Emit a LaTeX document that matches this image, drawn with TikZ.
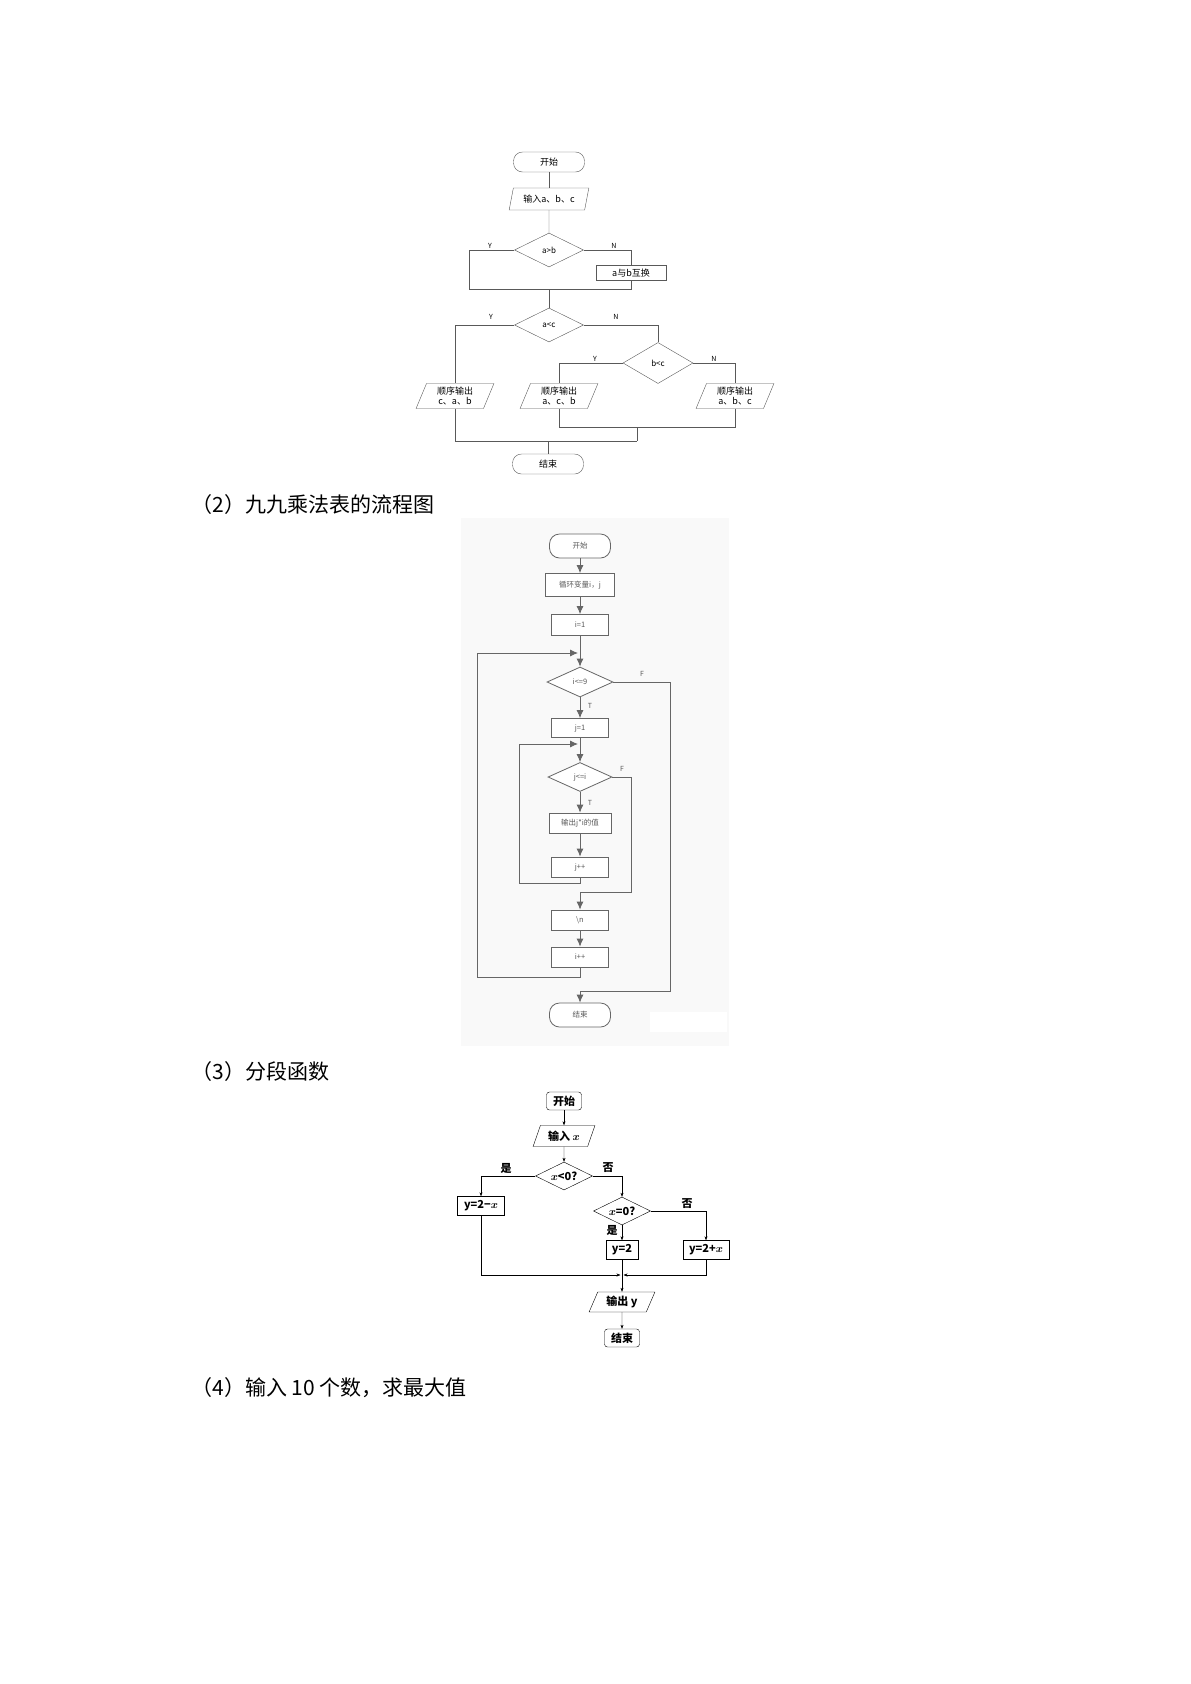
\documentclass[tikz,border=0pt]{standalone}
\usepackage{fontspec}
\usepackage{amsmath,bm}
\setmainfont{Noto Sans CJK SC}
\usetikzlibrary{shapes.geometric,arrows.meta}

\tikzset{
  % first chart: thin grey lines, no arrow tips
  term1/.style={draw=gray!70!black, rounded corners=9pt, minimum width=71pt, minimum height=20pt, inner sep=0pt, font=\fontsize{9}{10}\selectfont},
  io1/.style={draw=gray!70!black, trapezium, trapezium left angle=70, trapezium right angle=110, trapezium stretches=true, minimum width=80pt, minimum height=22pt, inner sep=0pt, font=\fontsize{9}{10}\selectfont},
  dec1/.style={draw=gray!70!black, diamond, aspect=2, minimum width=69pt, minimum height=34pt, inner sep=0pt, font=\fontsize{8}{10}\selectfont},
  box1/.style={draw=gray!70!black, minimum width=70pt, minimum height=15pt, inner sep=0pt, font=\fontsize{9}{10}\selectfont},
  lbl1/.style={font=\fontsize{7}{8}\selectfont},
  line1/.style={gray!70!black, thin},
  % second chart
  term2/.style={draw=gray!80!black, thick, rounded corners=10pt, minimum width=61pt, minimum height=24pt, inner sep=0pt, font=\fontsize{7.5}{9}\selectfont, text=gray!70!black},
  box2/.style={draw=gray!80!black, thick, fill=white, minimum width=57pt, minimum height=21pt, inner sep=0pt, font=\fontsize{7.5}{9}\selectfont, text=gray!70!black},
  dec2/.style={draw=gray!80!black, thick, fill=white, diamond, aspect=2.2, minimum width=66pt, minimum height=30pt, inner sep=0pt, font=\fontsize{7.5}{9}\selectfont, text=gray!70!black},
  lbl2/.style={font=\fontsize{7}{8}\selectfont, text=gray!70!black},
  line2/.style={gray!80!black, thick, -{Latex[length=8pt,width=7pt]}},
  % third chart
  term3/.style={draw, rounded corners=3pt, minimum width=35pt, minimum height=18pt, inner sep=0pt, font=\bfseries\fontsize{11}{12}\selectfont},
  io3/.style={draw, trapezium, trapezium left angle=65, trapezium right angle=115, trapezium stretches=true, minimum width=62pt, minimum height=21pt, inner sep=0pt, font=\bfseries\fontsize{11}{12}\selectfont},
  dec3/.style={draw, diamond, aspect=2, minimum width=57pt, minimum height=28pt, inner sep=0pt, font=\bfseries\fontsize{11}{12}\selectfont},
  box3/.style={draw, minimum height=19pt, inner sep=0pt, font=\bfseries\fontsize{11}{12}\selectfont},
  lbl3/.style={font=\bfseries\fontsize{11}{12}\selectfont},
  line3/.style={-{Stealth[length=4pt,width=3pt]}},
  caption/.style={anchor=west, font=\fontsize{21}{24}\selectfont}
}

\begin{document}
\begin{tikzpicture}[x=1pt, y=-1pt]
    \useasboundingbox (0,0) rectangle (1191,1684);

    % Chart 1: sorting three numbers
    \node[term1] (start1) at (549,162) {开始};
    \node[io1] (input1) at (549,199) {输入a、b、c};
    \node[dec1] (cmpab) at (549,250) {a>b};
    \node[box1] (swap) at (631,273) {a与b互换};
    \node[dec1] (cmpac) at (549,325) {a<c};
    \node[dec1, minimum width=70pt, minimum height=41pt] (cmpbc) at (658,363) {b<c};
    \node[io1, minimum width=78pt, minimum height=25pt, align=center] (outcab) at (455,396) {顺序输出\\c、a、b};
    \node[io1, minimum width=78pt, minimum height=25pt, align=center] (outacb) at (559,396) {顺序输出\\a、c、b};
    \node[io1, minimum width=78pt, minimum height=25pt, align=center] (outabc) at (735,396) {顺序输出\\a、b、c};
    \node[term1] (end1) at (548,464) {结束};
    \coordinate (join1) at (549,289);
    \coordinate (join2) at (637,427);
    \coordinate (join3) at (548,441);

    \draw[line1] (start1) -- (input1);
    \draw[line1] (input1) -- (cmpab);
    \draw[line1] (cmpab.west) -- (469,250) |- (join1);
    \draw[line1] (cmpab.east) -| (swap.north);
    \draw[line1] (swap.south) |- (join1);
    \draw[line1] (join1) -- (cmpac.north);
    \draw[line1] (cmpac.west) -| (outcab.north);
    \draw[line1] (cmpac.east) -| (cmpbc.north);
    \draw[line1] (cmpbc.west) -| (outacb.north);
    \draw[line1] (cmpbc.east) -| (outabc.north);
    \draw[line1] (outacb.south) |- (join2);
    \draw[line1] (outabc.south) |- (join2);
    \draw[line1] (join2) -- (join2 |- join3);
    \draw[line1] (outcab.south) |- (join2 |- join3);
    \draw[line1] (join3) -- (end1);
    \node[lbl1] (y1) at (490,246) {Y};
    \node[lbl1] (n1) at (614,246) {N};
    \node[lbl1] (y2) at (491,317) {Y};
    \node[lbl1] (n2) at (616,317) {N};
    \node[lbl1] (y3) at (595,359) {Y};
    \node[lbl1] (n3) at (714,359) {N};

    % Caption 2
    \node[caption] (cap2) at (188,505) {（2）九九乘法表的流程图};

    % Chart 2: multiplication table
    \fill[gray!5] (461,518) rectangle (729,1046);
    \fill[white] (650,1012) rectangle (727,1032);
    \node[term2, fill=white] (start2) at (580,546) {开始};
    \node[box2, minimum width=69pt, minimum height=23pt] (vars) at (580,585) {循环变量i，j};
    \node[box2] (iset) at (580,625) {i=1};
    \node[dec2] (cmpi) at (580,682) {i<=9};
    \node[box2, minimum height=19pt] (jset) at (580,728) {j=1};
    \node[dec2, minimum width=64pt, minimum height=29pt] (cmpj) at (580,777) {j<=i};
    \node[box2, minimum width=62pt, minimum height=20pt] (print) at (580,823) {输出j*i的值};
    \node[box2, minimum height=20pt] (jinc) at (580,867) {j++};
    \node[box2, minimum height=20pt] (newline) at (580,920) {\textbackslash n};
    \node[box2, minimum height=20pt] (iinc) at (580,957) {i++};
    \node[term2, fill=white] (end2) at (580,1015) {结束};
    \coordinate (loopi) at (580,653);
    \coordinate (loopj) at (580,744);
    \coordinate (exitj) at (580,892);
    \coordinate (exiti) at (580,991);

    \draw[line2] (start2) -- (vars);
    \draw[line2] (vars) -- (iset);
    \draw[line2] (iset) -- (cmpi);
    \draw[line2] (cmpi) -- (jset);
    \draw[line2] (jset) -- (cmpj);
    \draw[line2] (cmpj) -- (print);
    \draw[line2] (print) -- (jinc);
    \draw[line2] (newline) -- (iinc);
    \draw[line2] (jinc.south) -- (580,883) -| (519,744) -- ([xshift=-2pt]loopj);
    \draw[line2] (cmpj.east) -- (631,777) |- (exitj) -- (newline.north);
    \draw[line2] (iinc.south) -- (580,977) -| (477,653) -- ([xshift=-2pt]loopi);
    \draw[line2] (cmpi.east) -- (670,682) |- (exiti) -- (end2.north);
    \node[lbl2] (t1) at (590,706) {T};
    \node[lbl2] (f1) at (642,674) {F};
    \node[lbl2] (t2) at (590,803) {T};
    \node[lbl2] (f2) at (622,769) {F};

    % Caption 3
    \node[caption] (cap3) at (188,1072) {（3）分段函数};

    % Chart 3: piecewise function
    \node[term3] (start3) at (564,1101) {开始};
    \node[io3] (input3) at (564,1136) {输入 $\bm{x}$};
    \node[dec3] (neg) at (564,1176) {$\bm{x}$<0?};
    \node[box3, minimum width=47pt] (yneg) at (481,1206) {y=2−$\bm{x}$};
    \node[dec3] (zero) at (622,1211) {$\bm{x}$=0?};
    \node[box3, minimum width=32pt] (yzero) at (622,1250) {y=2};
    \node[box3, minimum width=46pt] (ypos) at (706,1250) {y=2+$\bm{x}$};
    \node[io3, minimum width=66pt, minimum height=20pt] (output3) at (622,1302) {输出 y};
    \node[term3] (end3) at (622,1338) {结束};
    \coordinate (join4) at (622,1275);

    \draw[line3] (start3) -- (input3);
    \draw[line3] (input3) -- (neg);
    \draw[line3] (neg.west) -| (yneg.north);
    \draw[line3] (neg.east) -| (zero.north);
    \draw[line3] (zero.east) -| (ypos.north);
    \draw[line3] (zero) -- (yzero);
    \draw[line3] (yneg.south) |- ([xshift=-1.5pt]join4);
    \draw[line3] (ypos.south) |- ([xshift=1.5pt]join4);
    \draw[line3] (yzero) -- (output3);
    \draw[line3] (output3) -- (end3);
    \node[lbl3] (yes1) at (506,1168) {是};
    \node[lbl3] (no1) at (608,1168) {否};
    \node[lbl3] (no2) at (687,1204) {否};
    \node[lbl3] (yes2) at (612,1230) {是};

    % Caption 4
    \node[caption] (cap4) at (188,1388) {（4）输入 10 个数，求最大值};
\end{tikzpicture}
\end{document}
